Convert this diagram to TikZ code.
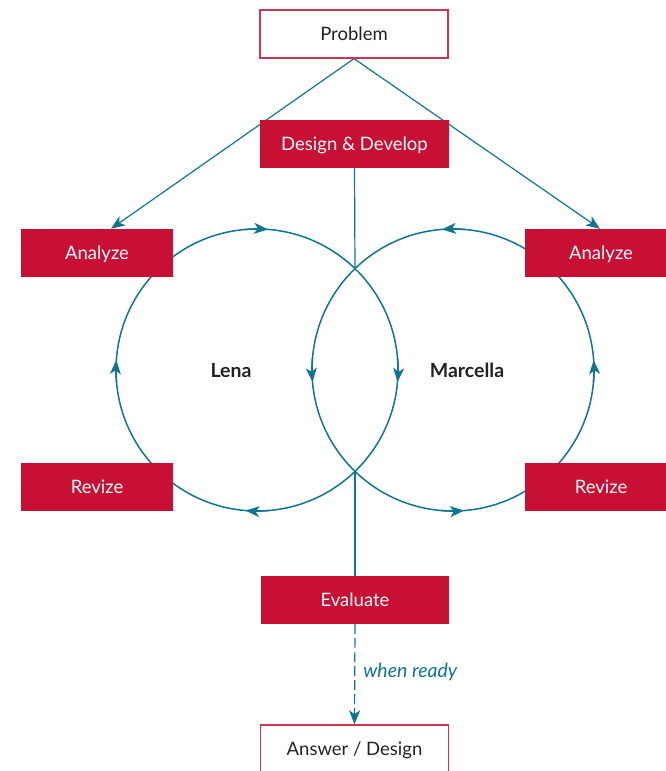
\documentclass[tikz,border=0pt]{standalone}
\usepackage{fontspec}
\setmainfont{Lato}
\usetikzlibrary{arrows.meta,calc,backgrounds}
\definecolor{crim}{RGB}{200,16,52}
\definecolor{tealc}{RGB}{14,117,146}
\definecolor{ink}{RGB}{34,34,34}
\begin{document}
\begin{tikzpicture}[x=1pt,y=1pt,
  boxfont/.style={font=\fontsize{18.5}{21}\selectfont, text height=13pt, text depth=-1.5pt},
  redbox/.style={boxfont, fill=crim, text=white, minimum width=#1, minimum height=48pt, inner sep=0pt},
  outbox/.style={boxfont, draw=crim!85, line width=1.3pt, fill=white, text=ink, minimum width=188pt, minimum height=48pt, inner sep=0pt},
  flow/.style={draw=tealc, line width=1.2pt},
  loop/.style={draw=tealc, line width=1.5pt},
  tip/.style={-{Stealth[length=14pt,width=11pt,inset=3.8pt]}},
  who/.style={font=\fontsize{19.5}{22}\selectfont\bfseries, text=ink, text height=13.5pt, text depth=0pt, inner sep=0pt}
]
\useasboundingbox (0,0) rectangle (666,771);
\clip (0,0) rectangle (666,771);

% nodes
\node[outbox] (prob) at (354,737) {Problem};
\node[redbox=189] (des) at (354.5,627) {Design \& Develop};
\node[redbox=152] (anL) at (97,518) {Analyze};
\node[redbox=152] (anR) at (601,518) {Analyze};
\node[redbox=152] (revL) at (97,284) {Revize};
\node[redbox=152] (revR) at (601,284) {Revize};
\node[redbox=188] (eval) at (355,171) {Evaluate};
\node[outbox] (ans) at (354.5,22) {Answer / Design};
\node[who] (lena) at (231,400) {Lena};
\node[who] (marc) at (467,400) {Marcella};

\coordinate (cL) at (257,401);
\coordinate (cR) at (453,401);
\coordinate (xtop) at (355,502);
\coordinate (xbot) at (355,300);

\begin{scope}[on background layer]
  % problem to analyze
  \draw[flow,tip] (prob.south) -- ($(anL.north)+(14,0)$);
  \draw[flow,tip] (prob.south) -- ($(anR.north)+(-1,0)$);
  % vertical lines
  \draw[flow] (des.south) -- (xtop);
  \draw[flow] (xbot) -- (eval.north);
  \draw[flow,tip,dash pattern=on 10pt off 4pt] (eval.south) -- (ans.north)
    node[pos=0.48, anchor=west, xshift=8pt, font=\fontsize{19.5}{22}\selectfont\itshape, text=tealc, inner sep=0pt] {when ready};
  % loops
  \draw[loop] (cL) circle[radius=141];
  \draw[loop] (cR) circle[radius=141];
  % left loop arrows (clockwise on screen)
  \draw[loop,tip] ($(cL)+(95:141)$) arc[start angle=95, end angle=85.5, radius=141];
  \draw[loop,tip] ($(cL)+(5:141)$) arc[start angle=5, end angle=-4.9, radius=141];
  \draw[loop,tip] ($(cL)+(275:141)$) arc[start angle=275, end angle=265.3, radius=141];
  \draw[loop,tip] ($(cL)+(185:141)$) arc[start angle=185, end angle=176, radius=141];
  % right loop arrows (counterclockwise on screen)
  \draw[loop,tip] ($(cR)+(85:141)$) arc[start angle=85, end angle=94.5, radius=141];
  \draw[loop,tip] ($(cR)+(175:141)$) arc[start angle=175, end angle=184.9, radius=141];
  \draw[loop,tip] ($(cR)+(265:141)$) arc[start angle=265, end angle=274.5, radius=141];
  \draw[loop,tip] ($(cR)+(-5:141)$) arc[start angle=-5, end angle=4, radius=141];
\end{scope}
\end{tikzpicture}
\end{document}
